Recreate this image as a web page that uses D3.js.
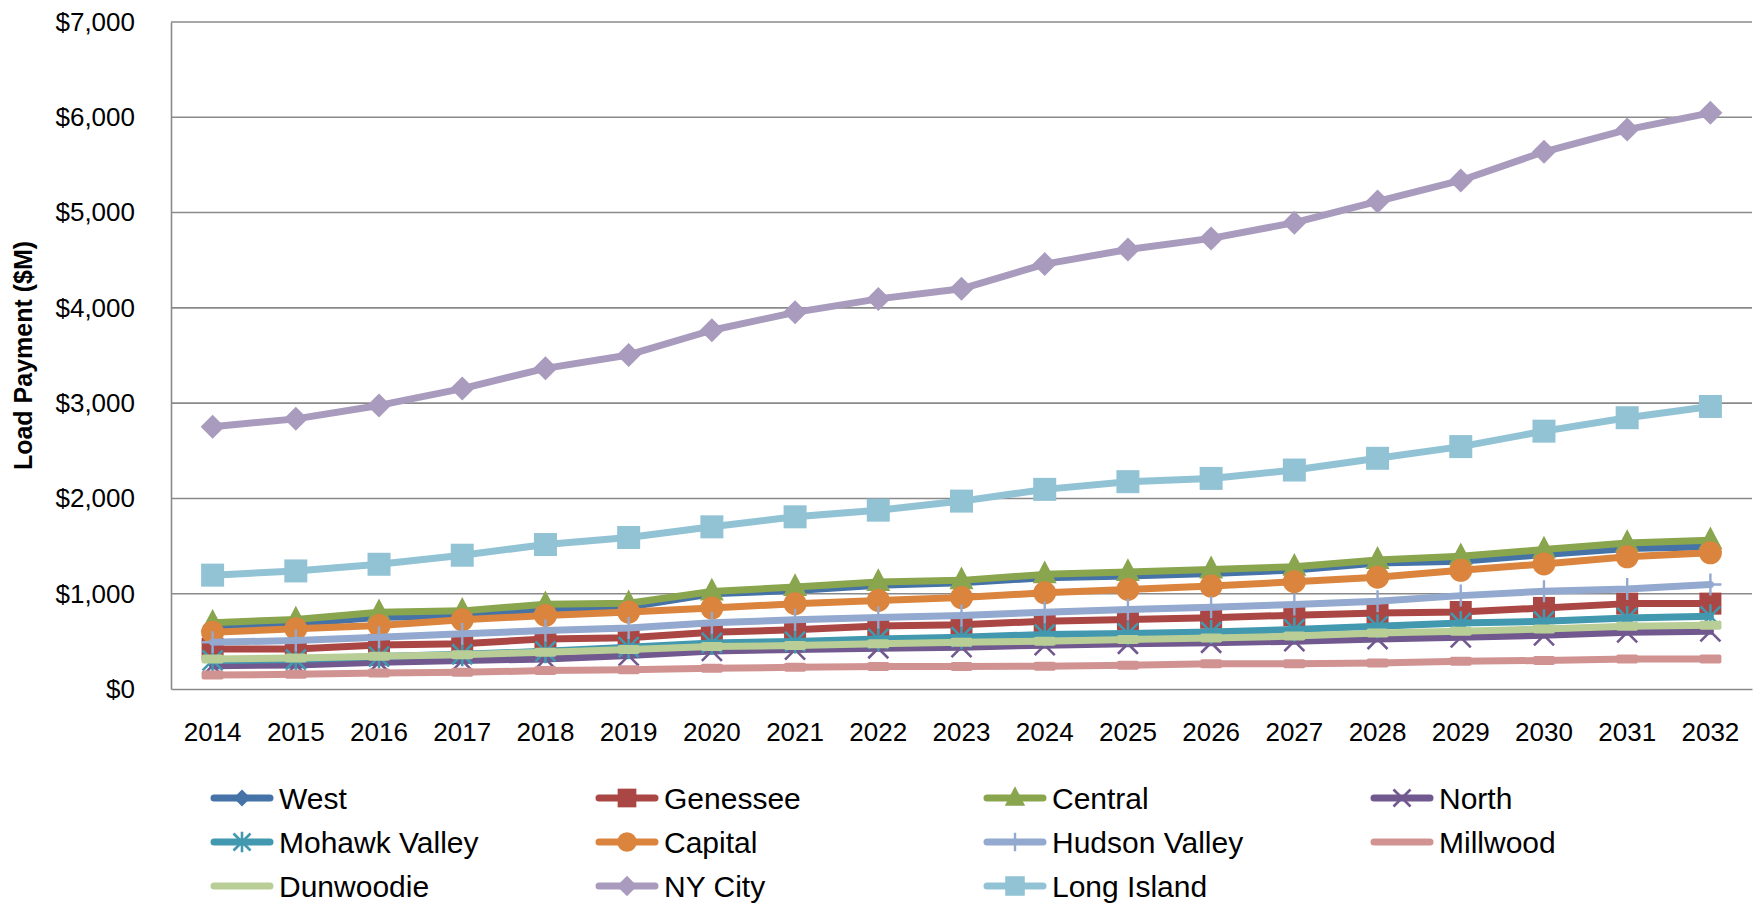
<!DOCTYPE html>
<html>
<head>
<meta charset="utf-8">
<script src="https://cdn.jsdelivr.net/npm/d3@7/dist/d3.min.js"></script>
<style>
  html, body { margin: 0; padding: 0; background: #fff; }
  svg { display: block; font-family: "Liberation Sans", Arial, sans-serif; }
</style>
</head>
<body>
<svg id="chart" width="1761" height="903"></svg>
<script>
const years = ["2014","2015","2016","2017","2018","2019","2020","2021","2022","2023","2024","2025","2026","2027","2028","2029","2030","2031","2032"];
const yTicks = [0, 1000, 2000, 3000, 4000, 5000, 6000, 7000];
const seriesNames = ["West","Genessee","Central","North","Mohawk Valley","Capital","Hudson Valley","Millwood","Dunwoodie","NY City","Long Island"];

const west      = [660, 684, 754, 760, 842, 860, 1000, 1035, 1088, 1116, 1168, 1185, 1213, 1248, 1323, 1340, 1411, 1474, 1492];
const genessee  = [421, 421, 463, 474, 526, 537, 596, 621, 660, 674, 712, 730, 748, 775, 798, 808, 851, 896, 896];
const central   = [695, 730, 805, 820, 890, 900, 1024, 1070, 1123, 1140, 1203, 1227, 1255, 1283, 1355, 1393, 1463, 1533, 1561];
const north     = [245, 253, 281, 298, 316, 351, 400, 414, 428, 439, 460, 475, 485, 502, 525, 542, 563, 595, 605];
const mohawk    = [300, 310, 340, 365, 395, 439, 484, 498, 526, 544, 572, 583, 597, 625, 658, 693, 710, 746, 763];
const capital   = [596, 632, 666, 726, 772, 807, 849, 895, 930, 960, 1010, 1045, 1080, 1126, 1173, 1246, 1313, 1387, 1429];
const hudson    = [491, 508, 544, 579, 614, 639, 695, 726, 751, 772, 806, 835, 859, 888, 920, 980, 1025, 1050, 1096];
const millwood  = [147, 154, 168, 175, 193, 203, 218, 228, 235, 235, 240, 250, 265, 265, 273, 290, 300, 315, 315];
const dunwoodie = [315, 325, 345, 360, 386, 414, 446, 456, 474, 491, 502, 520, 534, 555, 588, 605, 630, 658, 668];
const nycity    = [2753, 2835, 2976, 3153, 3365, 3506, 3765, 3953, 4094, 4200, 4459, 4612, 4729, 4894, 5117, 5337, 5638, 5871, 6047];
const longIsland= [1195, 1239, 1309, 1404, 1516, 1590, 1702, 1807, 1877, 1972, 2095, 2176, 2210, 2298, 2421, 2544, 2706, 2847, 2965];

const seriesValues = [west, genessee, central, north, mohawk, capital, hudson, millwood, dunwoodie, nycity, longIsland];
const seriesColors = ["#4572A7","#AA4643","#89A54E","#71588F","#4198AF","#DB843D","#93A9CF","#D19392","#B9CD96","#A99BBD","#92C3D5"];
const seriesMarkers = ["diamond","square","triangle","x","star","circle","plus","dash","dash","diamondL","squareL"];

const svg = d3.select("#chart");
const plot = { left: 171, top: 22, right: 1752, bottom: 689 };

const x = d3.scaleBand().domain(years).range([plot.left, plot.right]).padding(0);
const y = d3.scaleLinear().domain([0, 7000]).range([plot.bottom, plot.top]);
const cx = d => x(d) + x.bandwidth() / 2;

// gridlines
svg.append("g").selectAll("line").data(yTicks.filter(t => t > 0)).join("line")
  .attr("x1", plot.left).attr("x2", plot.right)
  .attr("y1", d => y(d)).attr("y2", d => y(d))
  .attr("stroke", "#8a8a8a").attr("stroke-width", 1.6);

// axes
const yAxis = d3.axisLeft(y).tickValues(yTicks).tickSize(0).tickPadding(36)
  .tickFormat(d => "$" + d3.format(",")(d));
const gy = svg.append("g").attr("transform", `translate(${plot.left},0)`).call(yAxis);
gy.select(".domain").attr("stroke", "#8a8a8a").attr("stroke-width", 1.6);
gy.selectAll("text").attr("font-size", 26).attr("fill", "#000");

const xAxis = d3.axisBottom(x).tickSize(0).tickPadding(34);
const gx = svg.append("g").attr("transform", `translate(0,${plot.bottom})`).call(xAxis);
gx.select(".domain").attr("stroke", "#8a8a8a").attr("stroke-width", 1.6);
gx.selectAll("text").attr("font-size", 26).attr("fill", "#000");

// y title
svg.append("text")
  .attr("transform", `translate(32,${(plot.top + plot.bottom) / 2}) rotate(-90)`)
  .attr("text-anchor", "middle")
  .attr("font-size", 25).attr("font-weight", "bold")
  .text("Load Payment ($M)");

function drawMarker(g, type, px, py, color, s, inLegend) {
  s = s || 1;
  if (type === "diamond" || type === "diamondL") {
    const r = (type === "diamond" ? 10 : 12) * s;
    g.append("path").attr("d", `M${px},${py - r}L${px + r},${py}L${px},${py + r}L${px - r},${py}Z`).attr("fill", color);
  } else if (type === "square" || type === "squareL") {
    const h = (type === "square" ? 11 : 11.5) * s;
    g.append("rect").attr("x", px - h).attr("y", py - h).attr("width", 2 * h).attr("height", 2 * h).attr("fill", color);
  } else if (type === "triangle") {
    const h = 12 * s;
    g.append("path").attr("d", `M${px},${py - h * 1.15}L${px + h},${py + h * 0.75}L${px - h},${py + h * 0.75}Z`).attr("fill", color);
  } else if (type === "circle") {
    g.append("circle").attr("cx", px).attr("cy", py).attr("r", 11.5 * s).attr("fill", color);
  } else if (type === "x") {
    const h = 10 * s;
    g.append("path").attr("d", `M${px - h},${py - h}L${px + h},${py + h}M${px - h},${py + h}L${px + h},${py - h}`)
      .attr("stroke", color).attr("stroke-width", 2.6).attr("fill", "none");
  } else if (type === "star") {
    const h = 10 * s;
    g.append("path").attr("d", `M${px - h},${py - h}L${px + h},${py + h}M${px - h},${py + h}L${px + h},${py - h}M${px},${py - h * 1.2}L${px},${py + h * 1.2}`)
      .attr("stroke", color).attr("stroke-width", 2.6).attr("fill", "none");
  } else if (type === "plus") {
    const h = 11 * s;
    g.append("path").attr("d", `M${px},${py - h}L${px},${py + h}M${px - h},${py}L${px + h},${py}`)
      .attr("stroke", color).attr("stroke-width", 2.4).attr("fill", "none");
  } else if (type === "dash" && !inLegend) {
    g.append("rect").attr("x", px - 11 * s).attr("y", py - 4.5).attr("width", 22 * s).attr("height", 9).attr("rx", 2).attr("fill", color);
  }
}

const line = d3.line().x(d => cx(d.year)).y(d => y(d.value));

seriesNames.forEach((name, i) => {
  const data = years.map((yr, j) => ({ year: yr, value: seriesValues[i][j] }));
  const g = svg.append("g");
  g.append("path").datum(data).attr("d", line)
    .attr("fill", "none").attr("stroke", seriesColors[i]).attr("stroke-width", 7)
    .attr("stroke-linejoin", "round").attr("stroke-linecap", "round");
  data.forEach(d => drawMarker(g, seriesMarkers[i], cx(d.year), y(d.value), seriesColors[i], 1, false));
});

// legend
const legCols = [211, 596, 984, 1371];
const legRows = [798, 842, 886];
seriesNames.forEach((name, i) => {
  const col = i % 4, row = Math.floor(i / 4);
  const lx = legCols[col], ly = legRows[row];
  const g = svg.append("g");
  g.append("line").attr("x1", lx + 3).attr("x2", lx + 59).attr("y1", ly).attr("y2", ly)
    .attr("stroke", seriesColors[i]).attr("stroke-width", 7).attr("stroke-linecap", "round");
  drawMarker(g, seriesMarkers[i], lx + 31, ly, seriesColors[i], 0.85, true);
  g.append("text").attr("x", lx + 68).attr("y", ly).attr("dy", "0.36em")
    .attr("font-size", 30).attr("fill", "#000").text(name);
});
</script>
</body>
</html>
